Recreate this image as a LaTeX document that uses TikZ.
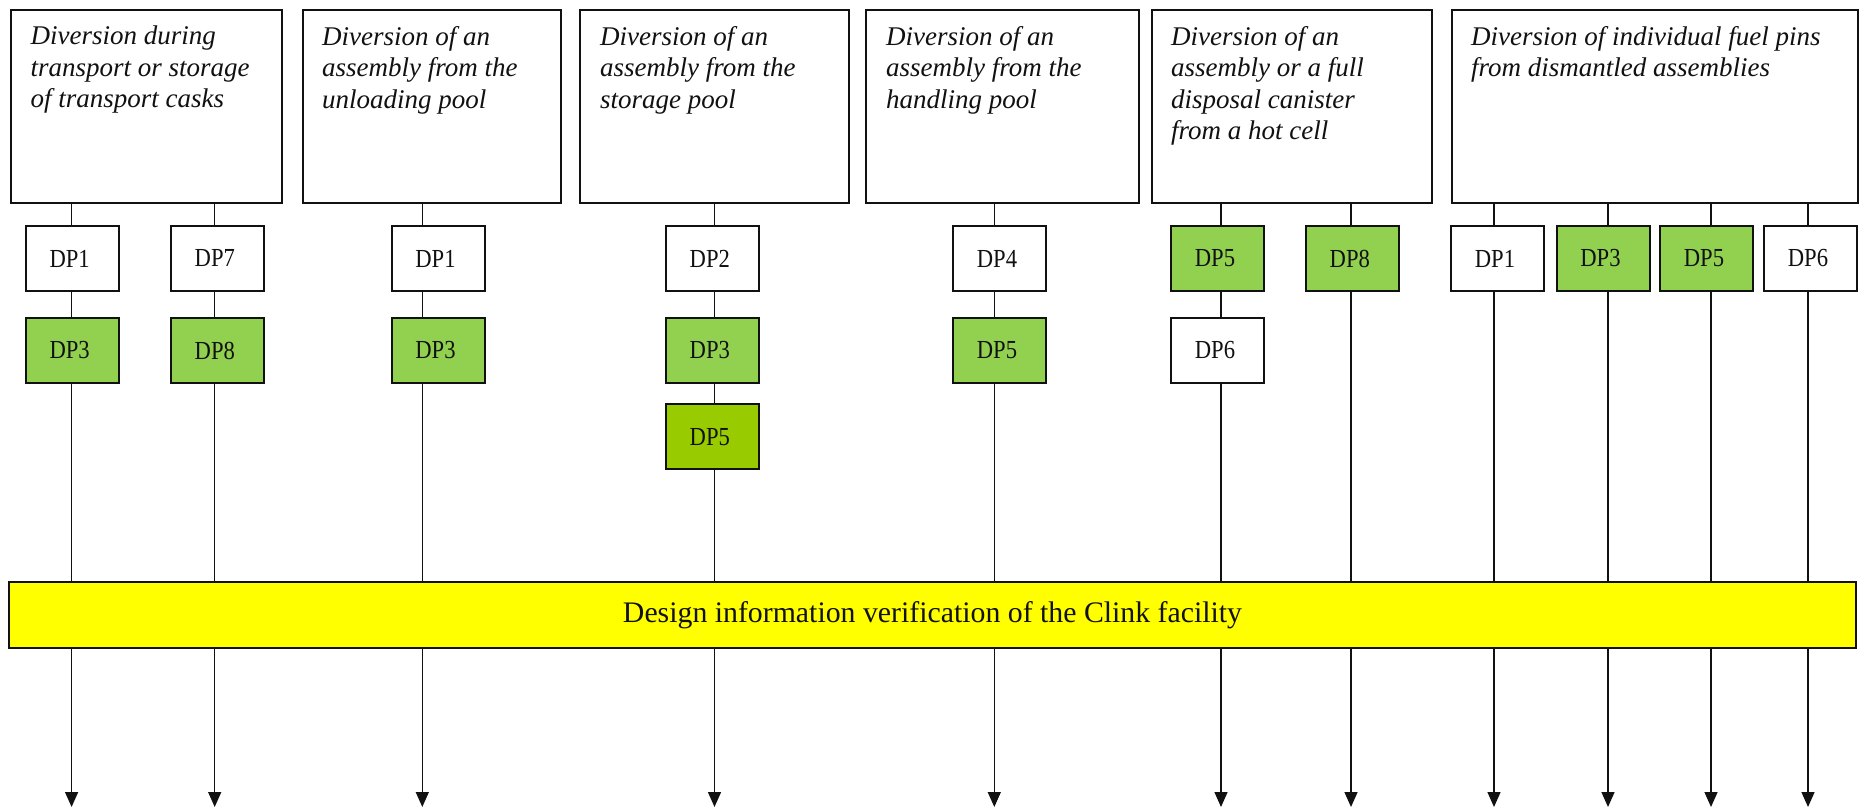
\documentclass[tikz,border=0pt]{standalone}
\usepackage{fontspec}
\setmainfont{Liberation Serif}
\newfontfamily\dpfont[FakeStretch=0.87]{Liberation Serif}
\usetikzlibrary{arrows.meta}
\definecolor{dpgreen}{HTML}{92D050}
\definecolor{dplime}{HTML}{99CC00}
\definecolor{baryellow}{HTML}{FFFF00}
\definecolor{ink}{HTML}{111111}
\newcommand\dptxt[1]{#1\kern5pt}
\tikzset{
  topbox/.style={draw=ink, line width=2pt, fill=white, inner sep=0pt, anchor=north west},
  headtext/.style={anchor=north west, align=left, inner sep=0pt, text=ink,
    font=\fontsize{27}{31.5}\selectfont\itshape},
  dpbox/.style={draw=ink, line width=2pt, fill=white, minimum width=93pt, minimum height=65pt,
    inner sep=0pt, text=ink, font=\dpfont\fontsize{26}{30}\selectfont},
  dpg/.style={dpbox, fill=dpgreen},
  dpl/.style={dpbox, fill=dplime},
  vline/.style={draw=ink, line width=1.4pt, -{Triangle[length=15pt,width=13pt]}},
  barbox/.style={draw=ink, line width=2pt, fill=baryellow, minimum width=1847pt, minimum height=66.5pt,
    inner sep=0pt, text=ink, font=\fontsize{29.8}{34}\selectfont}
}
\begin{document}
\begin{tikzpicture}[x=1pt,y=-1pt]
\useasboundingbox (0,0) rectangle (1860,808);
% column line coordinates
\foreach \n/\x in {1/71.6,2/214.7,3/422.3,4/714.5,5/994.3,6/1221,7/1351,8/1494,9/1608,10/1711,11/1808}{
  \coordinate (t\n) at (\x,202);
  \coordinate (e\n) at (\x,807);
}
\foreach \n in {1,...,11}{ \draw[vline] (t\n) -- (e\n); }
% top boxes
\node[topbox, minimum width=271pt, minimum height=192.5pt] (b1) at (9.5,9.5) {};
\node[topbox, minimum width=258.5pt, minimum height=192.5pt] (b2) at (301.5,9.5) {};
\node[topbox, minimum width=269pt, minimum height=192.5pt] (b3) at (579,9.5) {};
\node[topbox, minimum width=273pt, minimum height=192.5pt] (b4) at (865,9.5) {};
\node[topbox, minimum width=280pt, minimum height=192.5pt] (b5) at (1150.5,9.5) {};
\node[topbox, minimum width=406pt, minimum height=192.5pt] (b6) at (1451,9.5) {};
\node[headtext] (h1) at (30.5,26) {Diversion during\\transport or storage\\of transport casks};
\node[headtext] (h2) at (322,26) {Diversion of an\\assembly from the\\unloading pool};
\node[headtext] (h3) at (600,26) {Diversion of an\\assembly from the\\storage pool};
\node[headtext] (h4) at (886,26) {Diversion of an\\assembly from the\\handling pool};
\node[headtext] (h5) at (1171,26) {Diversion of an\\assembly or a full\\disposal canister\\from a hot cell};
\node[headtext] (h6) at (1471,26) {Diversion of individual fuel pins\\from dismantled assemblies};
% DP boxes
\node[dpbox] (c1a) at (72.2,258.5) {\dptxt{DP1}};
\node[dpg]   (c1b) at (72.2,350.5) {\dptxt{DP3}};
\node[dpbox] (c2a) at (217.3,258.5) {\dptxt{DP7}};
\node[dpg]   (c2b) at (217.3,350.5) {\dptxt{DP8}};
\node[dpbox] (c3a) at (438,258.5) {\dptxt{DP1}};
\node[dpg]   (c3b) at (438,350.5) {\dptxt{DP3}};
\node[dpbox] (c4a) at (712.3,258.5) {\dptxt{DP2}};
\node[dpg]   (c4b) at (712.3,350.5) {\dptxt{DP3}};
\node[dpl]   (c4c) at (712.3,436.7) {\dptxt{DP5}};
\node[dpbox] (c5a) at (999.5,258.5) {\dptxt{DP4}};
\node[dpg]   (c5b) at (999.5,350.5) {\dptxt{DP5}};
\node[dpg]   (c6a) at (1217.5,258.5) {\dptxt{DP5}};
\node[dpbox] (c6b) at (1217.5,350.5) {\dptxt{DP6}};
\node[dpg]   (c7a) at (1352.3,258.5) {\dptxt{DP8}};
\node[dpbox] (c8a) at (1497.5,258.5) {\dptxt{DP1}};
\node[dpg]   (c9a) at (1603,258.5) {\dptxt{DP3}};
\node[dpg]   (c10a) at (1706.5,258.5) {\dptxt{DP5}};
\node[dpbox] (c11a) at (1810.5,258.5) {\dptxt{DP6}};
% bar
\node[barbox] (bar) at (932.5,615) {Design information verification of the Clink facility};
\end{tikzpicture}
\end{document}
